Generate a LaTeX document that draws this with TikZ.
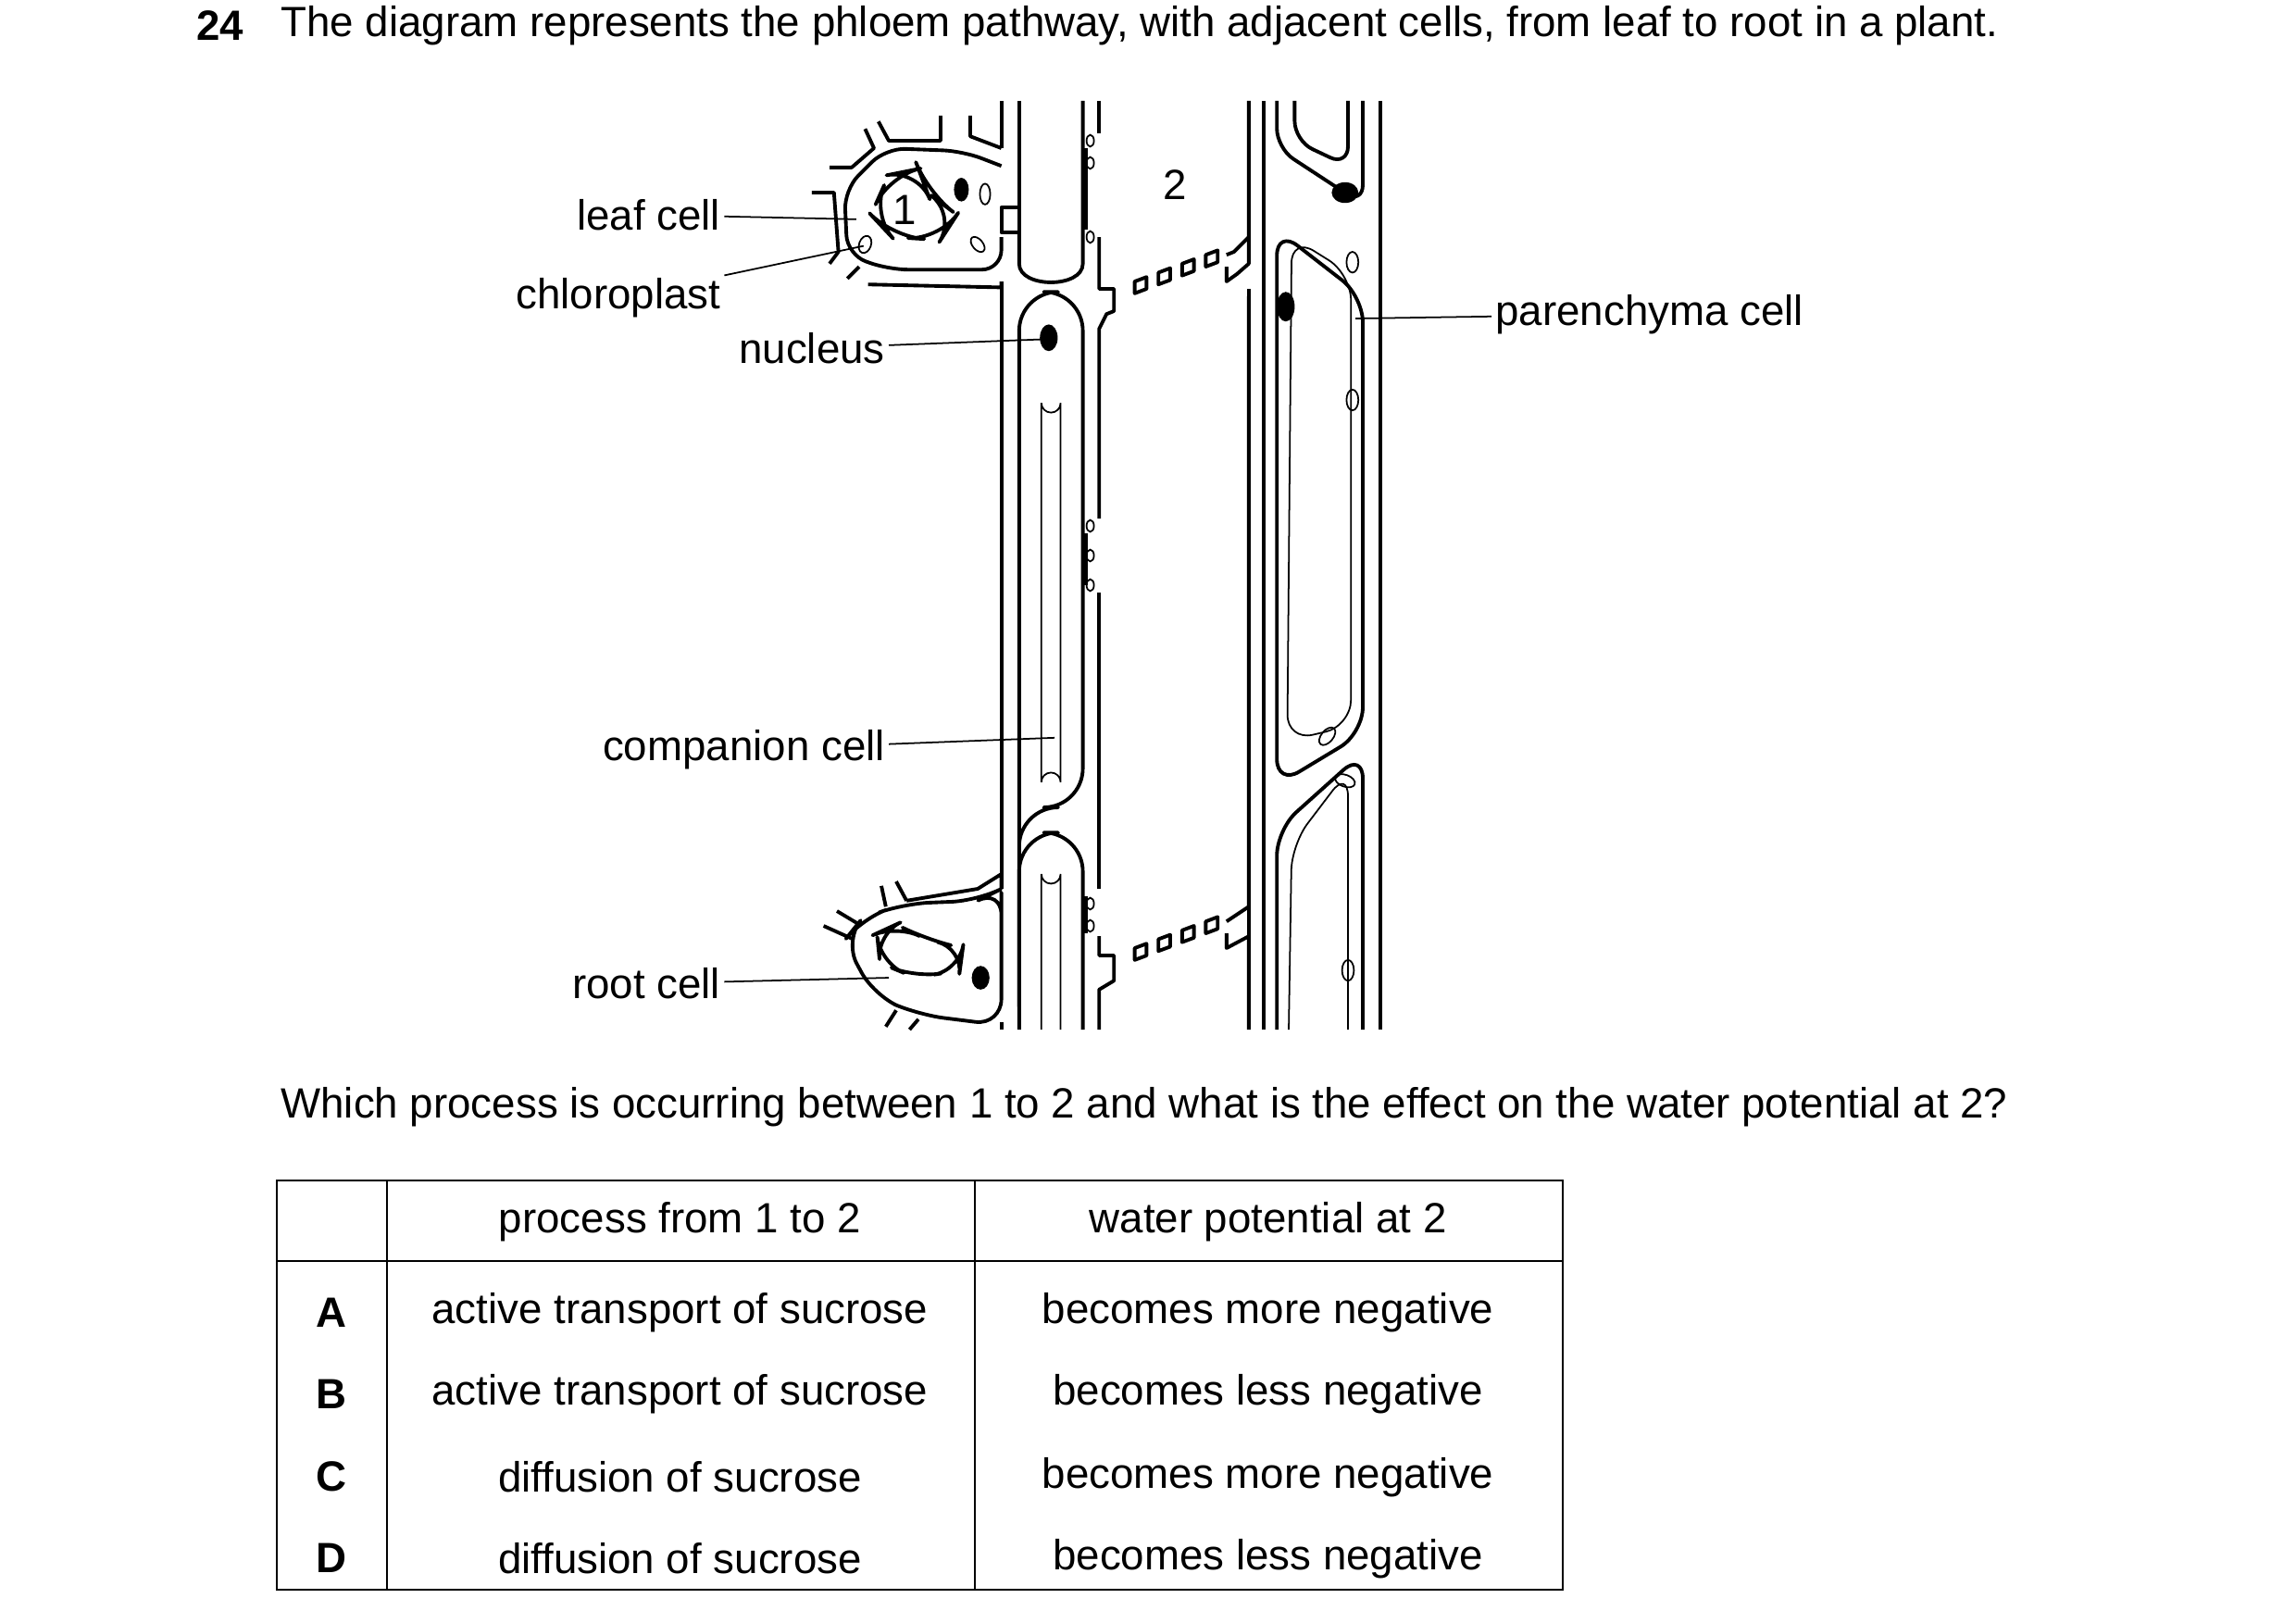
\documentclass[tikz,border=0pt]{standalone}
\usepackage{fontspec}
\setmainfont{Liberation Sans}
\begin{document}
\begin{tikzpicture}
		[
		x=0.016cm, y=-0.016cm, font=\fontsize{13}{15}\selectfont,
		wall/.style={line width=1.1pt, line join=round},
		thin line/.style={line width=0.5pt},
		lead/.style={line width=0.5pt},
		lbl/.style={inner sep=1pt}
		]
		\useasboundingbox (0,0) rectangle (1550,1087);
		
		%Frage
		\node[lbl, anchor=west] (num) at (130,17) {\textbf{24}};
		\node[lbl, anchor=west] (title) at (187,17) {The diagram represents the phloem pathway, with adjacent cells, from leaf to root in a plant.};
		
		%linke Wand der Saeule
		\draw[wall] (676,68) -- (676,100);
		\draw[wall] (688,68) -- (688,140);
		\draw[wall] (688,157) -- (688,178) to[out=-90,out=-90,in=-90] (731,178) -- (731,68);
		\draw[wall] (676,190) -- (676,600);
		\draw[wall] (676,690) -- (676,695);
		\draw[wall] (742,68) -- (742,90);
		\draw[wall] (742,160) -- (742,195) -- (752,195) -- (752,210) -- (747,212) -- (742,222) -- (742,350);
		\draw[wall] (742,400) -- (742,600);
		\draw[wall] (742,632) -- (742,645) -- (752,645) -- (752,662) -- (742,668) -- (742,695);
		\draw[wall] (733,100) -- (733,155);
		\draw[wall] (733,360) -- (733,395);
		\draw[wall] (733,605) -- (733,630);
		\foreach \py in {95,110,160,355,375,395,610,625}
		\draw[thin line] (736,\py) ellipse (2.5 and 4);
		
		%Geleitzellen
		\draw[wall, rounded corners=12pt] (688,695) -- (688,197) -- (731,197) -- (731,545) -- (688,545) -- cycle;
		\draw[wall, rounded corners=12pt] (688,695) -- (688,562) -- (731,562) -- (731,695);
		\draw[thin line] (703,528) -- (703,272) arc (180:0:6.5) -- (716,528) arc (0:-180:6.5);
		\draw[thin line] (703,695) -- (703,590) arc (180:0:6.5) -- (716,695);
		\fill (708,228) ellipse (6 and 9);
		
		%Siebplatten
		\foreach \i in {0,1,2,3}
		{
		\draw[wall, shift={(766+\i*16,198-\i*6)}] (0,0) -- (0,-8) -- (8,-11) -- (8,-3) -- cycle;
		\draw[wall, shift={(766+\i*16,648-\i*6)}] (0,0) -- (0,-8) -- (8,-11) -- (8,-3) -- cycle;
		}
		\draw[wall] (828,180) -- (828,190) -- (835,185) -- (843,178) -- (843,68);
		\draw[wall] (828,172) -- (833,170) -- (843,160);
		\draw[wall] (843,195) -- (843,695);
		\draw[wall] (828,630) -- (828,640) -- (843,632) -- (843,695);
		\draw[wall] (828,622) -- (843,612) -- (843,200);
		\node[lbl] (two) at (793,125) {2};
		
		%Parenchymzellen
		\draw[wall] (853,68) -- (853,695);
		\draw[wall] (932,68) -- (932,695);
		\draw[wall, rounded corners=6pt] (862,68) -- (862,100) -- (920,138) -- (920,68);
		\draw[wall, rounded corners=6pt] (874,68) -- (874,95) -- (910,112) -- (910,68);
		\draw[wall, rounded corners=8pt] (862,530) -- (862,155) -- (920,200) -- (920,495) -- cycle;
		\draw[wall, rounded corners=8pt] (862,695) -- (862,560) -- (920,508) -- (920,695);
		\draw[thin line, rounded corners=8pt] (869,500) -- (872,160) -- (912,185) -- (912,490) -- cycle;
		\draw[thin line, rounded corners=8pt] (870,695) -- (872,570) -- (910,520) -- (910,695);
		\fill (908,130) ellipse (9 and 7);
		\fill (868,207) ellipse (6 and 10);
		\foreach \px/\py in {913/177,913/270,910/655}
		\draw[thin line] (\px,\py) ellipse (4 and 7);
		\draw[thin line, rotate around={-40:(896,497)}] (896,497) ellipse (4 and 7);
		\draw[thin line, rotate around={70:(908,527)}] (908,527) ellipse (4 and 7);
		
		%Blattzelle
		\draw[wall, rounded corners=6pt] (676,112) -- (650,102) -- (598,100) -- (570,128) -- (572,172) -- (600,182) -- (676,182) -- (676,160);
		\draw[wall] (676,100) -- (655,92) -- (655,78);
		\draw[wall] (635,78) -- (635,95) -- (600,95) -- (593,82);
		\draw[wall] (584,87) -- (590,100) -- (575,113) -- (560,113);
		\draw[wall] (548,130) -- (563,130) -- (566,170) -- (560,178);
		\draw[wall] (572,188) -- (580,180);
		\draw[wall] (586,192) -- (676,194) -- (676,190);
		\draw[wall] (676,140) rectangle (688,157);
		\draw[wall, rounded corners=10pt] (600,118) -- (620,114) -- (626,130) -- (646,145) -- (635,162) -- (602,160) -- (588,145) -- cycle;
		\node[lbl] (one) at (611,142) {1};
		\fill (649,128) ellipse (5 and 8);
		\draw[thin line] (665,131) ellipse (3.5 and 7);
		\draw[thin line, rotate around={40:(660,165)}] (660,165) ellipse (3.5 and 6);
		\draw[thin line, rotate around={-20:(584,165)}] (584,165) ellipse (4 and 6);
		
		%Wurzelzelle
		\draw[wall, rounded corners=8pt] (676,620) -- (676,600) -- (660,608) -- (610,610) -- (582,620) -- (570,635) -- (590,672) -- (620,685) -- (676,692) -- cycle;
		\draw[wall] (676,600) -- (676,590) -- (660,600) -- (612,608);
		\draw[wall] (612,608) -- (605,595);
		\draw[wall] (598,612) -- (595,598);
		\draw[wall] (580,624) -- (565,615);
		\draw[wall] (576,634) -- (556,625);
		\draw[wall] (605,682) -- (598,693);
		\draw[wall] (620,688) -- (614,695);
		\draw[wall, rounded corners=8pt] (592,630) -- (605,624) -- (625,634) -- (650,640) -- (648,655) -- (618,660) -- (594,650) -- cycle;
		\fill (662,660) ellipse (6 and 8);
		
		%Beschriftungen
		\node[lbl, anchor=east] (leaf) at (489,145) {leaf cell};
		\node[lbl, anchor=east] (chloro) at (489,201) {chloroplast};
		\node[lbl, anchor=east] (nuc) at (600,235) {nucleus};
		\node[lbl, anchor=east] (comp) at (600,506) {companion cell};
		\node[lbl, anchor=east] (root) at (489,664) {root cell};
		\node[lbl, anchor=west] (par) at (1007,212) {parenchyma cell};
		\coordinate (leafend) at (578,148);
		\coordinate (chloroend) at (583,166);
		\coordinate (nucend) at (705,229);
		\coordinate (compend) at (712,498);
		\coordinate (rootend) at (600,660);
		\coordinate (parend) at (915,215);
		\draw[lead] (leaf) -- (leafend);
		\draw[lead] (chloro) -- (chloroend);
		\draw[lead] (nuc) -- (nucend);
		\draw[lead] (comp) -- (compend);
		\draw[lead] (root) -- (rootend);
		\draw[lead] (par) -- (parend);
		
		%Frage 2
		\node[lbl, anchor=west] (quest) at (187,747) {Which process is occurring between 1 to 2 and what is the effect on the water potential at 2?};
		
		%Tabelle
		\draw[line width=0.6pt] (187,797) rectangle (1055,1073);
		\draw[line width=0.6pt] (187,851) -- (1055,851);
		\draw[line width=0.6pt] (261,797) -- (261,1073);
		\draw[line width=0.6pt] (658,797) -- (658,1073);
		\node[lbl] (h1) at (459,825) {process from 1 to 2};
		\node[lbl] (h2) at (856,825) {water potential at 2};
		\foreach \k/\y/\p/\w in {A/886/active transport of sucrose/becomes more negative,
			B/941/active transport of sucrose/becomes less negative,
			C/997/diffusion of sucrose/becomes more negative,
			D/1052/diffusion of sucrose/becomes less negative}
		{
		\node[lbl] (k\k) at (224,\y) {\textbf{\k}};
		\node[lbl] (p\k) at (459,\y) {\p};
		\node[lbl] (w\k) at (856,\y) {\w};
		}
	\end{tikzpicture}
\end{document}
